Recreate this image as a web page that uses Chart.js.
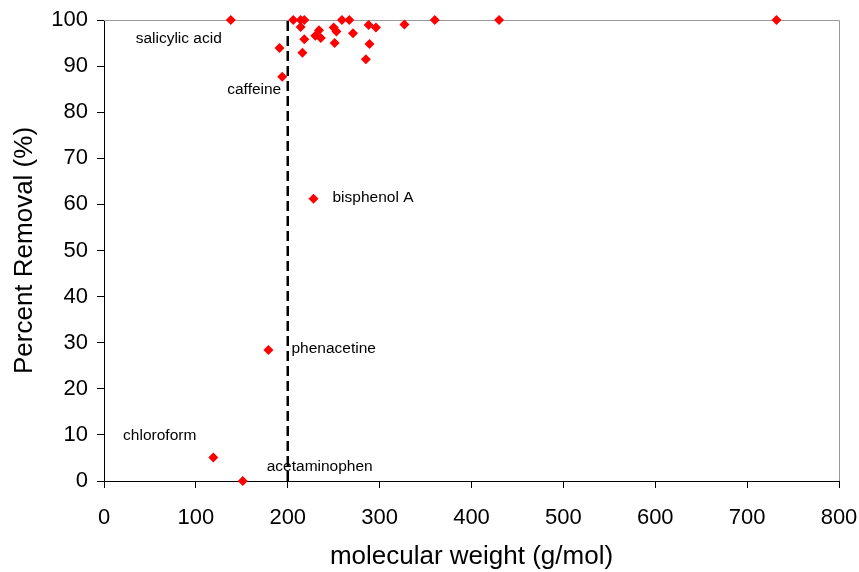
<!DOCTYPE html>
<html>
<head>
<meta charset="utf-8">
<script src="https://cdn.jsdelivr.net/npm/chart.js@4.4.0/dist/chart.umd.min.js"></script>
<style>
  html, body { margin: 0; padding: 0; background: #fff; }
  canvas { display: block; }
</style>
</head>
<body>
<canvas id="chart" width="859" height="572"></canvas>
<script>
// Labelled compounds
const labelNames = ['salicylic acid', 'caffeine', 'bisphenol A', 'phenacetine', 'chloroform', 'acetaminophen'];
const labelMw = [138, 194, 228, 179, 119, 151];
const labelRemoval = [100, 87.7, 61.2, 28.4, 5.1, 0];

// Other compounds (unlabelled)
const otherMw = [206, 214, 218, 214, 191, 218, 216, 230, 234, 236, 250, 253, 251, 259, 267, 271, 288, 296, 289, 285, 327, 360, 430, 732];
const otherRemoval = [100, 100, 100, 98.5, 93.9, 95.8, 92.9, 96.6, 97.8, 96.1, 98.4, 97.5, 95, 100, 100, 97.1, 98.9, 98.4, 94.8, 91.5, 99, 100, 100, 100];

// Cut-off line at 200 g/mol
const cutoffMw = [200, 200];
const cutoffRemoval = [0, 100];

// Axis ticks
const xTicks = [0, 100, 200, 300, 400, 500, 600, 700, 800];
const yTicks = [0, 10, 20, 30, 40, 50, 60, 70, 80, 90, 100];

// where each label sits relative to its point (pixels)
const labelOffsets = {
    'salicylic acid': { dx: -9, dy: 19, align: 'right' },
    'caffeine': { dx: -1, dy: 13, align: 'right' },
    'bisphenol A': { dx: 19, dy: -1, align: 'left' },
    'phenacetine': { dx: 23, dy: -1, align: 'left' },
    'chloroform': { dx: -17, dy: -22, align: 'right' },
    'acetaminophen': { dx: 24, dy: -14, align: 'left' }
};

const FONT = "'Liberation Sans', Arial, sans-serif";

const points = [];
labelMw.forEach((m, i) => points.push({ x: m, y: labelRemoval[i] }));
otherMw.forEach((m, i) => points.push({ x: m, y: otherRemoval[i] }));

// gray frame on top and right
const framePlugin = {
    id: 'frame',
    beforeDatasetsDraw(chart) {
        const { ctx, chartArea: a } = chart;
        ctx.save();
        ctx.strokeStyle = '#9a9a9a';
        ctx.lineWidth = 1;
        ctx.beginPath();
        ctx.moveTo(a.left, a.top + 0.5);
        ctx.lineTo(a.right + 0.5, a.top + 0.5);
        ctx.lineTo(a.right + 0.5, a.bottom);
        ctx.stroke();
        ctx.restore();
    }
};

// compound names next to their points
const labelPlugin = {
    id: 'pointLabels',
    afterDatasetsDraw(chart) {
        const { ctx, scales } = chart;
        ctx.save();
        ctx.font = '15.5px ' + FONT;
        ctx.fillStyle = '#000';
        ctx.textBaseline = 'middle';
        labelNames.forEach((name, i) => {
            const off = labelOffsets[name];
            const px = scales.x.getPixelForValue(labelMw[i]);
            const py = scales.y.getPixelForValue(labelRemoval[i]);
            ctx.textAlign = off.align;
            ctx.fillText(name, px + off.dx, py + off.dy);
        });
        ctx.restore();
    }
};

new Chart(document.getElementById('chart'), {
    type: 'scatter',
    data: {
        datasets: [
            {
                type: 'line',
                data: cutoffMw.map((m, i) => ({ x: m, y: cutoffRemoval[i] })),
                borderColor: '#000',
                borderWidth: 2.5,
                borderDash: [10, 5],
                pointRadius: 0,
                fill: false,
                order: 2
            },
            {
                data: points,
                pointStyle: 'rectRot',
                pointRadius: 5,
                pointBackgroundColor: '#ff0000',
                pointBorderColor: '#ff0000',
                pointBorderWidth: 0,
                clip: false,
                order: 1
            }
        ]
    },
    options: {
        responsive: false,
        animation: false,
        layout: { padding: { top: 20, right: 20, left: 0, bottom: 0 } },
        plugins: {
            legend: { display: false },
            tooltip: { enabled: false }
        },
        scales: {
            x: {
                type: 'linear',
                min: 0,
                max: 800,
                afterFit(scale) {
                    scale.height = 91;
                    scale.paddingLeft = 0;
                    scale.paddingRight = 0;
                },
                afterBuildTicks(scale) { scale.ticks = xTicks.map(v => ({ value: v })); },
                grid: { drawOnChartArea: false, drawTicks: true, tickLength: 7, color: '#000' },
                border: { display: true, color: '#000', width: 1 },
                ticks: { color: '#000', padding: 17, font: { family: FONT, size: 22 }, maxRotation: 0 },
                title: {
                    display: true,
                    text: 'molecular weight (g/mol)',
                    color: '#000',
                    font: { family: FONT, size: 26, lineHeight: 1.2 },
                    padding: { top: 1, bottom: 0 }
                }
            },
            y: {
                type: 'linear',
                min: 0,
                max: 100,
                afterFit(scale) {
                    scale.width = 104;
                    scale.paddingTop = 0;
                    scale.paddingBottom = 0;
                },
                afterBuildTicks(scale) { scale.ticks = yTicks.map(v => ({ value: v })); },
                grid: { drawOnChartArea: false, drawTicks: true, tickLength: 7, color: '#000' },
                border: { display: true, color: '#000', width: 1 },
                ticks: { color: '#000', padding: 9, font: { family: FONT, size: 22 } },
                title: {
                    display: true,
                    text: 'Percent Removal (%)',
                    color: '#000',
                    font: { family: FONT, size: 26, lineHeight: 1.2 },
                    padding: { top: 9, bottom: 0 }
                }
            }
        }
    },
    plugins: [framePlugin, labelPlugin]
});
</script>
</body>
</html>
